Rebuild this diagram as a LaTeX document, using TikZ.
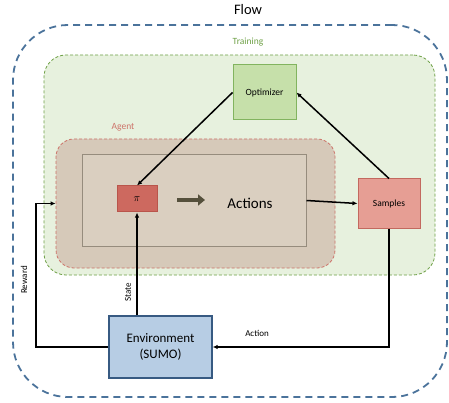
\documentclass[tikz,border=0pt]{standalone}
\usepackage{fontspec}
\setmainfont{Carlito}
\usepackage{tikz}
\usetikzlibrary{arrows.meta}
\definecolor{flowblue}{RGB}{75,115,155}
\definecolor{trainfill}{RGB}{231,241,222}
\definecolor{traingreen}{RGB}{110,160,70}
\definecolor{agentfill}{RGB}{214,201,185}
\definecolor{agentred}{RGB}{205,115,105}
\definecolor{innerfill}{RGB}{218,207,192}
\definecolor{pifill}{RGB}{205,105,95}
\definecolor{sampfill}{RGB}{230,158,148}
\definecolor{optfill}{RGB}{198,224,170}
\definecolor{envfill}{RGB}{183,205,228}
\definecolor{olive}{RGB}{85,80,60}
\tikzstyle{Region}=[rectangle, inner sep=0pt, dash pattern=on 3pt off 2pt, line width=0.8pt]
\tikzstyle{Box}=[rectangle, inner sep=0pt, align=center, line width=1pt, font=\fontsize{9.5}{11}\selectfont]
\tikzstyle{Link}=[line width=1.5pt, -{Latex[length=5pt,width=4.5pt]}]
\tikzstyle{Tag}=[font=\fontsize{9}{10}\selectfont]

\begin{document}
\begin{tikzpicture}[x=1pt,y=-1pt]
    \useasboundingbox (0,0) rectangle (449,403);
    \path
    (230,211) node[Region, minimum width=434, minimum height=372, rounded corners=55, draw=flowblue, line width=1.8pt, dash pattern=on 7pt off 5pt] (flow) {}
    (239.5,165) node[Region, minimum width=391, minimum height=220, rounded corners=22, fill=trainfill, draw=traingreen] (train) {}
    (195.5,203.5) node[Region, minimum width=279, minimum height=129, rounded corners=18, fill=agentfill, draw=agentred] (agent) {}
    (194,200.5) node[Box, minimum width=224, minimum height=91, fill=innerfill, draw={rgb,255:red,150;green,140;blue,125}] (inner) {}
    (137,199) node[Box, minimum width=40, minimum height=26, fill=pifill, draw={rgb,255:red,185;green,85;blue,75}, font=\fontsize{11}{12}\selectfont] (pi) {$\pi$}
    (389,203.5) node[Box, minimum width=62, minimum height=49, fill=sampfill, draw={rgb,255:red,195;green,105;blue,95}] (samp) {Samples}
    (264.5,92.5) node[Box, minimum width=63, minimum height=55, fill=optfill, draw={rgb,255:red,130;green,180;blue,95}] (opt) {Optimizer}
    (160.5,347) node[Box, minimum width=103, minimum height=62, fill=envfill, draw={rgb,255:red,55;green,90;blue,130}, line width=1.3pt, font=\fontsize{13}{16}\selectfont] (env) {Environment\\(SUMO)};

    \path (248,10) node[font=\fontsize{14.5}{16}\selectfont] (title) {Flow}
    (248,42) node[font=\fontsize{9.5}{11}\selectfont, text=traingreen] (trainlbl) {Training}
    (123,127) node[font=\fontsize{9.5}{11}\selectfont, text=agentred] (agentlbl) {Agent}
    (250,203) node[font=\fontsize{15}{16}\selectfont] (actions) {Actions}
    (24,280) node[Tag, rotate=90] (rwlbl) {Reward}
    (128,292) node[Tag, rotate=90] (stlbl) {State}
    (257,333) node[Tag] (aclbl) {Action};
    \coordinate (bigs) at (177,200);
    \coordinate (bige) at (205,200);
    \coordinate (rw) at (36,203.5);

    \draw[olive, line width=4pt, -{Triangle[length=7pt,width=11pt]}] (bigs) -- (bige);
    \draw[Link] (opt.west) -- (pi.north);
    \draw[Link] (samp.north) -- (opt.east);
    \draw[Link] (inner.east) -- (samp.west);
    \draw[Link] (env.west) -| (rw) -- (agent.west);
    \draw[Link] (pi.south |- env.north) -- (pi.south);
    \draw[Link] (samp.south) |- (env.east);
\end{tikzpicture}
\end{document}
